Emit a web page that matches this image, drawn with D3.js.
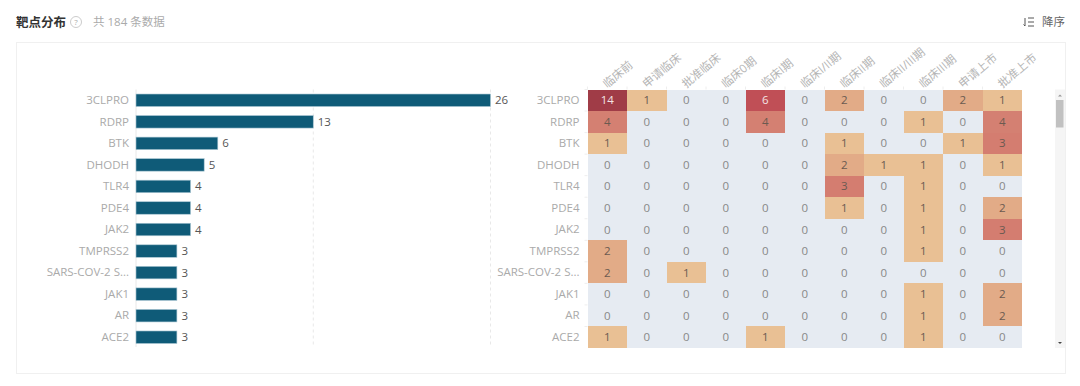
<!DOCTYPE html>
<html>
<head>
<meta charset="utf-8">
<script src="https://cdn.jsdelivr.net/npm/d3@7/dist/d3.min.js"></script>
<style>
  html, body { margin: 0; padding: 0; background: #fff; }
  svg { display: block; font-family: "Open Sans", "Noto Sans CJK SC", sans-serif; }
</style>
</head>
<body>
<svg id="chart" width="1080" height="386"></svg>
<script>
// Datos
const targets = ['3CLPRO', 'RDRP', 'BTK', 'DHODH', 'TLR4', 'PDE4', 'JAK2', 'TMPRSS2', 'SARS-COV-2 S...', 'JAK1', 'AR', 'ACE2'];
const totals = [26, 13, 6, 5, 4, 4, 4, 3, 3, 3, 3, 3];
const phases = ['临床前', '申请临床', '批准临床', '临床0期', '临床I期', '临床I/II期', '临床II期', '临床II/III期', '临床III期', '申请上市', '批准上市'];
const phaseCounts = [
    [14, 1, 0, 0, 6, 0, 2, 0, 0, 2, 1],
    [4, 0, 0, 0, 4, 0, 0, 0, 1, 0, 4],
    [1, 0, 0, 0, 0, 0, 1, 0, 0, 1, 3],
    [0, 0, 0, 0, 0, 0, 2, 1, 1, 0, 1],
    [0, 0, 0, 0, 0, 0, 3, 0, 1, 0, 0],
    [0, 0, 0, 0, 0, 0, 1, 0, 1, 0, 2],
    [0, 0, 0, 0, 0, 0, 0, 0, 1, 0, 3],
    [2, 0, 0, 0, 0, 0, 0, 0, 1, 0, 0],
    [2, 0, 1, 0, 0, 0, 0, 0, 0, 0, 0],
    [0, 0, 0, 0, 0, 0, 0, 0, 1, 0, 2],
    [0, 0, 0, 0, 0, 0, 0, 0, 1, 0, 2],
    [1, 0, 0, 0, 1, 0, 0, 0, 1, 0, 0]
];
const barTicks = [0, 13, 26];
const colorValues = [0, 1, 2, 3, 4, 6, 14];
const colorRange = ['#e6ebf2', '#e9c094', '#e2ab87', '#d47d70', '#d48072', '#c04f56', '#a03c47'];

const svg = d3.select('#chart');
const plotTop = 89.5, plotBottom = 348;

// Cabecera
svg.append('text').attr('x', 16).attr('y', 27).text('靶点分布')
    .style('font-size', '12.5px').style('font-weight', 'bold').attr('fill', '#333');
svg.append('circle').attr('cx', 76).attr('cy', 22).attr('r', 5.5)
    .attr('fill', 'none').attr('stroke', '#ccc');
svg.append('text').attr('x', 76).attr('y', 25).attr('text-anchor', 'middle').text('?')
    .style('font-size', '8px').attr('fill', '#aaa');
svg.append('text').attr('x', 93).attr('y', 26).text('共 184 条数据')
    .style('font-size', '11.5px').attr('fill', '#aaa');

// Botón de orden
const sortIcon = svg.append('g').attr('stroke', '#555').attr('fill', 'none');
sortIcon.append('path').attr('d', 'M1025 18V26M1023.5 24.5L1025 26');
[[1028, 18, 1034], [1028, 22, 1034], [1028, 26, 1034]].forEach(l => {
    sortIcon.append('line').attr('x1', l[0]).attr('x2', l[2]).attr('y1', l[1]).attr('y2', l[1]);
});
svg.append('text').attr('x', 1042).attr('y', 26).text('降序')
    .style('font-size', '11.5px').attr('fill', '#666');

// Panel
svg.append('rect').attr('x', 16.5).attr('y', 42.5).attr('width', 1049).attr('height', 331)
    .attr('fill', '#fff').attr('stroke', '#f0f0f0');

// Gráfico de barras
const x = d3.scaleLinear().domain([0, 26]).range([136, 490.5]);
const y = d3.scaleBand().domain(targets).range([plotTop, plotBottom]).paddingInner(0.42).paddingOuter(0.21);

svg.append('g').selectAll('line').data(barTicks).enter().append('line')
    .attr('x1', d => x(d)).attr('x2', d => x(d))
    .attr('y1', plotTop).attr('y2', plotBottom - 1)
    .attr('stroke', '#e8e8e8')
    .attr('stroke-dasharray', d => d === 0 ? null : '3,3');

svg.append('g')
    .attr('transform', 'translate(136,0)')
    .call(d3.axisLeft(y).tickSize(0).tickPadding(7))
    .attr('font-family', null)
    .call(g => g.select('.domain').remove())
    .selectAll('text')
    .style('font-size', '11.5px').attr('fill', '#aaa');

svg.selectAll('.bar').data(targets).enter().append('rect')
    .attr('class', 'bar')
    .attr('x', x(0))
    .attr('y', d => y(d))
    .attr('width', (d, i) => x(totals[i]) - x(0))
    .attr('height', y.bandwidth())
    .attr('fill', '#0f5b78')
    .attr('stroke', '#a9c6d3')
    .attr('stroke-width', 0.6);

svg.selectAll('.bar-label').data(targets).enter().append('text')
    .attr('class', 'bar-label')
    .attr('x', (d, i) => x(totals[i]) + 4.5)
    .attr('y', d => y(d) + y.bandwidth() / 2)
    .attr('dy', '0.35em')
    .text((d, i) => totals[i])
    .style('font-size', '11.5px').attr('fill', '#555');

// Mapa de calor
const hx = d3.scaleBand().domain(phases).range([587.5, 1022]);
const hy = d3.scaleBand().domain(targets).range([plotTop, plotBottom]);
const color = d3.scaleLinear().domain(colorValues).range(colorRange);

const heat = svg.append('g');
heat.append('g')
    .attr('transform', `translate(0,${plotTop})`)
    .call(d3.axisTop(hx).tickSize(3).tickPadding(0))
    .attr('font-family', null)
    .call(g => g.select('.domain').remove())
    .call(g => g.selectAll('line').attr('stroke', '#eee').attr('transform', `translate(${-hx.bandwidth() / 2},0)`))
    .selectAll('text')
    .attr('text-anchor', 'start')
    .attr('transform', 'translate(0,-1) rotate(-40)')
    .attr('x', 0).attr('y', 0).attr('dy', 0)
    .style('font-size', '11.5px').attr('fill', '#b5b5b5');

heat.append('g')
    .attr('transform', 'translate(587.5,0)')
    .call(d3.axisLeft(hy).tickSize(3).tickPadding(5))
    .attr('font-family', null)
    .call(g => g.select('.domain').remove())
    .call(g => g.selectAll('line').attr('stroke', '#eee').attr('transform', `translate(0,${-hy.bandwidth() / 2})`))
    .selectAll('text')
    .style('font-size', '11.5px').attr('fill', '#aaa');

const cells = targets.flatMap((t, i) => phases.map((p, j) => ({ t, p, v: phaseCounts[i][j] })));

heat.selectAll('.cell').data(cells).enter().append('rect')
    .attr('class', 'cell')
    .attr('x', d => hx(d.p))
    .attr('y', d => hy(d.t))
    .attr('width', hx.bandwidth())
    .attr('height', hy.bandwidth())
    .attr('shape-rendering', 'crispEdges')
    .attr('fill', d => color(d.v));

heat.selectAll('.cell-label').data(cells).enter().append('text')
    .attr('class', 'cell-label')
    .attr('x', d => hx(d.p) + hx.bandwidth() / 2)
    .attr('y', d => hy(d.t) + hy.bandwidth() / 2)
    .attr('dy', '0.35em')
    .attr('text-anchor', 'middle')
    .text(d => d.v)
    .style('font-size', '11.5px')
    .attr('fill', d => d.v >= 6 ? '#f3e4e4' : d.v > 0 ? '#6b5a50' : '#888');

// Barra de desplazamiento
svg.append('rect').attr('x', 1055).attr('y', plotTop).attr('width', 10).attr('height', plotBottom - plotTop).attr('fill', '#f5f5f5');
svg.append('rect').attr('x', 1056).attr('y', 100).attr('width', 7.5).attr('height', 27.5).attr('fill', '#c1c1c1');
svg.append('path').attr('d', 'M1058 96.5L1060 94.5L1062 96.5Z').attr('fill', '#999');
svg.append('path').attr('d', 'M1058 342L1060 344L1062 342Z').attr('fill', '#444');
</script>
</body>
</html>
